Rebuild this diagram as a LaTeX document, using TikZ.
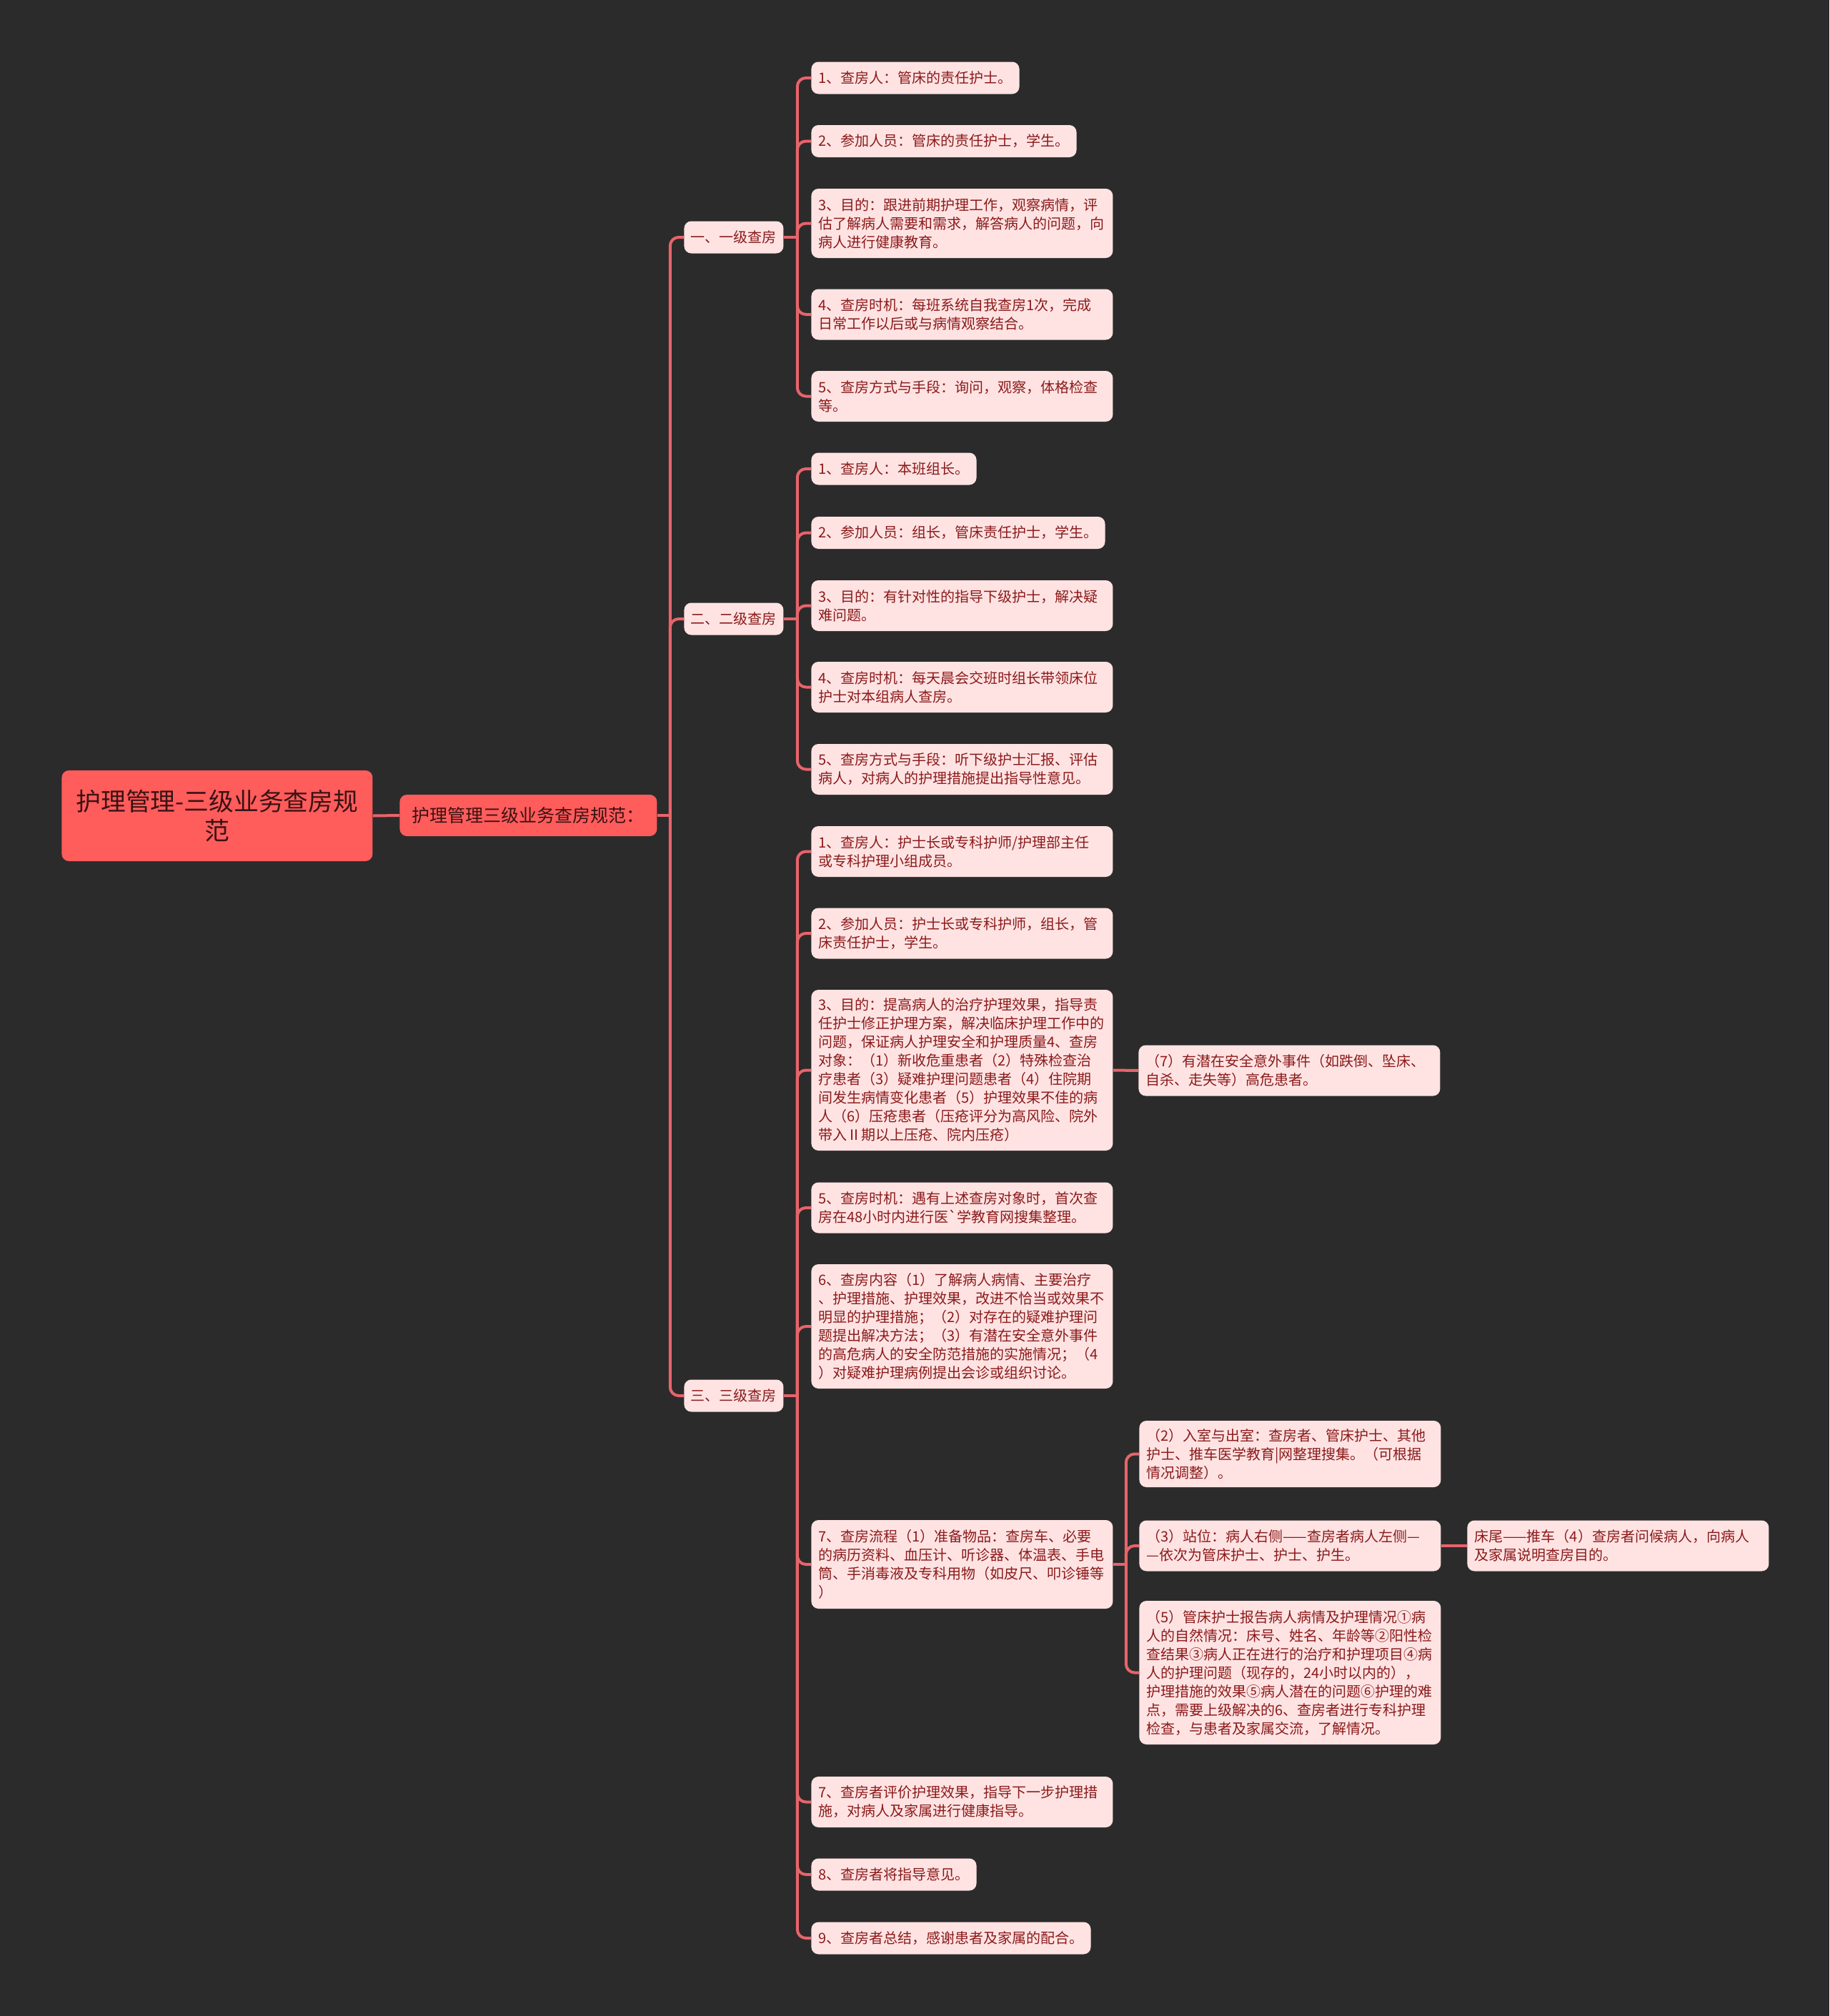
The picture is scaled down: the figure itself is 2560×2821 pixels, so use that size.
\documentclass[tikz,border=0pt]{standalone}
\usepackage{fontspec}
\newfontfamily\cjk{Noto Sans CJK SC}
\usetikzlibrary{calc}
\definecolor{bg}{HTML}{2B2B2B}
\definecolor{rootfill}{HTML}{FF5C5C}
\definecolor{leaffill}{HTML}{FFE3E3}
\definecolor{leaftext}{HTML}{8B1A1A}
\definecolor{roottext}{HTML}{3A1212}
\definecolor{linec}{HTML}{E8646B}
\begin{document}
\begin{tikzpicture}[x=0.5pt,y=-0.5pt,
  conn/.style={draw=linec, line width=2pt, rounded corners=6pt},
  box/.style={rounded corners=5pt, anchor=west, inner ysep=0pt},
  leaf/.style={box, fill=leaffill, text=leaftext, font=\cjk\fontsize{10pt}{13pt}\selectfont, inner xsep=5pt, align=left},
  wide/.style={leaf, text width=201pt},
  hA/.style={minimum height=22.5pt},
  hB/.style={minimum height=35.5pt},
  hC/.style={minimum height=48.5pt},
  hD/.style={minimum height=62pt},
  hF/.style={minimum height=87pt},
  hG/.style={minimum height=100.5pt},
  hH/.style={minimum height=112.5pt},
  lvone/.style={box, fill=leaffill, text=leaftext, font=\cjk\fontsize{10pt}{13pt}\selectfont, minimum width=69.5pt, minimum height=22.5pt, inner xsep=0pt},
  midbox/.style={box, fill=rootfill, text=roottext, font=\cjk\fontsize{12.5pt}{15pt}\selectfont, minimum width=180pt, minimum height=29pt, inner xsep=0pt},
  rootbox/.style={box, fill=rootfill, text=roottext, font=\cjk\fontsize{17.4pt}{20.5pt}\selectfont, text width=207pt, inner xsep=5.25pt, align=center, minimum height=63.5pt}
]
\fill[bg] (0,0) rectangle (2560,2821);
\useasboundingbox (0,0) rectangle (2560,2821);

% root and main
\node[rootbox] (root) at (86,1141.5) {护理管理-三级业务查房规\\范};
\node[midbox] (mid) at (559,1141) {护理管理三级业务查房规范：};

% level one
\node[lvone] (l1) at (957,332) {一、一级查房};
\node[lvone] (l2) at (957,866) {二、二级查房};
\node[lvone] (l3) at (957,1953) {三、三级查房};

% group 1
\node[leaf,hA] (a1) at (1135,109) {1、查房人：管床的责任护士。};
\node[leaf,hA] (a2) at (1135,197.5) {2、参加人员：管床的责任护士，学生。};
\node[wide,hC] (a3) at (1135,312.5) {3、目的：跟进前期护理工作，观察病情，评\\估了解病人需要和需求，解答病人的问题，向\\病人进行健康教育。};
\node[wide,hB] (a4) at (1135,440) {4、查房时机：每班系统自我查房1次，完成\\日常工作以后或与病情观察结合。};
\node[wide,hB] (a5) at (1135,554.5) {5、查房方式与手段：询问，观察，体格检查\\等。};

% group 2
\node[leaf,hA] (b1) at (1135,656) {1、查房人：本班组长。};
\node[leaf,hA] (b2) at (1135,745.5) {2、参加人员：组长，管床责任护士，学生。};
\node[wide,hB] (b3) at (1135,847.5) {3、目的：有针对性的指导下级护士，解决疑\\难问题。};
\node[wide,hB] (b4) at (1135,961.5) {4、查房时机：每天晨会交班时组长带领床位\\护士对本组病人查房。};
\node[wide,hB] (b5) at (1135,1076.5) {5、查房方式与手段：听下级护士汇报、评估\\病人，对病人的护理措施提出指导性意见。};

% group 3
\node[wide,hB] (c1) at (1135,1191.5) {1、查房人：护士长或专科护师/护理部主任\\或专科护理小组成员。};
\node[wide,hB] (c2) at (1135,1306) {2、参加人员：护士长或专科护师，组长，管\\床责任护士，学生。};
\node[wide,hH] (c3) at (1135,1497.5) {3、目的：提高病人的治疗护理效果，指导责\\任护士修正护理方案，解决临床护理工作中的\\问题，保证病人护理安全和护理质量4、查房\\对象：（1）新收危重患者（2）特殊检查治\\疗患者（3）疑难护理问题患者（4）住院期\\间发生病情变化患者（5）护理效果不佳的病\\人（6）压疮患者（压疮评分为高风险、院外\\带入Ⅱ期以上压疮、院内压疮）};
\node[wide,hB] (c5) at (1135,1690) {5、查房时机：遇有上述查房对象时，首次查\\房在48小时内进行医`学教育网搜集整理。};
\node[wide,hF] (c6) at (1135,1856) {6、查房内容（1）了解病人病情、主要治疗\\、护理措施、护理效果，改进不恰当或效果不\\明显的护理措施；（2）对存在的疑难护理问\\题提出解决方法；（3）有潜在安全意外事件\\的高危病人的安全防范措施的实施情况；（4\\）对疑难护理病例提出会诊或组织讨论。};
\node[wide,hD] (c7) at (1135,2189) {7、查房流程（1）准备物品：查房车、必要\\的病历资料、血压计、听诊器、体温表、手电\\筒、手消毒液及专科用物（如皮尺、叩诊锤等\\）};
\node[wide,hB] (c7b) at (1135,2521.5) {7、查房者评价护理效果，指导下一步护理措\\施，对病人及家属进行健康指导。};
\node[leaf,hA] (c8) at (1135,2623) {8、查房者将指导意见。};
\node[leaf,hA] (c9) at (1135,2712) {9、查房者总结，感谢患者及家属的配合。};

% side nodes
\node[wide,hB] (d7) at (1593,1498) {（7）有潜在安全意外事件（如跌倒、坠床、\\自杀、走失等）高危患者。};
\node[wide,minimum height=46.5pt] (e2) at (1594,2034.5) {（2）入室与出室：查房者、管床护士、其他\\护士、推车医学教育|网整理搜集。（可根据\\情况调整）。};
\node[wide,hB] (e3) at (1594,2163) {（3）站位：病人右侧——查房者病人左侧—\\—依次为管床护士、护士、护生。};
\node[wide,hG] (e5) at (1594,2340.5) {（5）管床护士报告病人病情及护理情况①病\\人的自然情况：床号、姓名、年龄等②阳性检\\查结果③病人正在进行的治疗和护理项目④病\\人的护理问题（现存的，24小时以内的），\\护理措施的效果⑤病人潜在的问题⑥护理的难\\点，需要上级解决的6、查房者进行专科护理\\检查，与患者及家属交流，了解情况。};
\node[wide,hB] (f) at (2053,2163) {床尾——推车（4）查房者问候病人，向病人\\及家属说明查房目的。};

% connectors
\draw[conn] (root.east) -- (mid.west);
\coordinate (j0) at ($(mid.east)+(9pt,0)$);
\draw[conn] (mid.east) -- (j0);
\foreach \n in {l1,l2,l3} \draw[conn] (j0) |- (\n.west);

\coordinate (j1) at ($(l1.east)+(9.5pt,0)$);
\draw[conn] (l1.east) -- (j1);
\foreach \n in {a1,a2,a3,a4,a5} \draw[conn] (j1) |- (\n.west);

\coordinate (j2) at ($(l2.east)+(9.5pt,0)$);
\draw[conn] (l2.east) -- (j2);
\foreach \n in {b1,b2,b3,b4,b5} \draw[conn] (j2) |- (\n.west);

\coordinate (j3) at ($(l3.east)+(9.5pt,0)$);
\draw[conn] (l3.east) -- (j3);
\foreach \n in {c1,c2,c3,c5,c6,c7,c7b,c8,c9} \draw[conn] (j3) |- (\n.west);

\draw[conn] (c3.east) -- (d7.west);

\coordinate (j7) at ($(c7.east)+(9pt,0)$);
\draw[conn] (c7.east) -- (j7);
\foreach \n in {e2,e3,e5} \draw[conn] (j7) |- (\n.west);

\draw[conn] (e3.east) -- (f.west);
\end{tikzpicture}
\end{document}
